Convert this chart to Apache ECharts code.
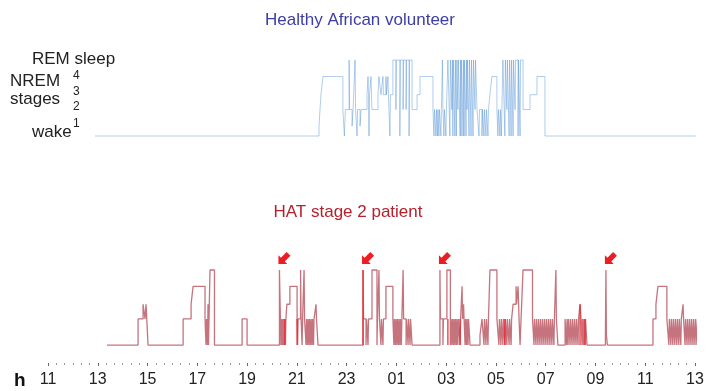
<!DOCTYPE html>
<html>
<head>
<meta charset="utf-8">
<script src="https://cdn.jsdelivr.net/npm/echarts@6/dist/echarts.min.js"></script>
<style>
  html, body { margin: 0; padding: 0; background: #fff; }
  #chart { width: 712px; height: 391px; }
</style>
</head>
<body>
<div id="chart"></div>
<script>
// Hypnograms over 26 hours, 11:00 on day one to 13:00 the next day.
// Times are clock hours; values above 24 belong to the next morning.
const AXIS_START = 11;
const AXIS_SPAN = 26;
const hourLabels = ['11', '13', '15', '17', '19', '21', '23', '01', '03', '05', '07', '09', '11', '13'];

// Vertical placement of each sleep stage on the hypnogram scale.
const stageLevel = { W: 0, '1': 0.6, '2': 1.6, '3': 2.5, '4': 3.6, R: 4.6 };
// Room left under the wake level of the lower panel for the time axis.
const AXIS_GAP = 1.1;

// Each entry: [clock hour, stage entered at that time].
const healthyHypnogram = [
  [12.89, 'W'],
  [21.89, '1'], [21.93, '2'], [21.97, '3'], [22.05, '4'],
  [22.85, '2'], [22.91, 'W'], [22.95, '2'],
  [23.10, 'R'], [23.12, '2'], [23.22, '1'], [23.26, '2'],
  [23.34, 'R'], [23.36, '2'], [23.42, 'W'], [23.44, '2'],
  [23.54, '1'], [23.58, '2'],
  [23.82, '3'], [23.86, '4'], [23.88, '3'], [23.90, 'W'], [23.92, '3'], [23.98, '4'], [24.00, '3'],
  [24.02, '2'],
  [24.26, '3'], [24.30, '4'], [24.38, '3'], [24.46, '4'], [24.48, '3'], [24.58, '4'], [24.60, '3'],
  [24.66, '4'], [24.68, '3'], [24.74, 'W'], [24.76, '3'],
  [24.86, 'R'], [24.98, '2'], [25.00, 'R'], [25.14, 'W'], [25.16, 'R'], [25.27, '2'], [25.29, 'R'],
  [25.39, '2'], [25.41, 'R'], [25.51, 'W'], [25.53, 'R'],
  [25.63, '2'], [25.83, '3'], [25.95, '4'],
  [26.47, '2'], [26.51, 'W'], [26.53, '2'], [26.59, 'W'], [26.61, '2'], [26.65, 'W'], [26.67, '2'],
  [26.71, 'W'], [26.73, '2'], [26.79, 'W'], [26.81, '2'], [26.85, 'R'], [26.87, '2'], [26.91, 'W'],
  [26.93, '2'], [26.99, 'W'], [27.01, '2'],
  [27.07, 'R'], [27.15, 'W'], [27.17, 'R'], [27.23, '2'], [27.25, 'R'], [27.27, 'W'], [27.29, 'R'],
  [27.35, 'W'], [27.37, 'R'], [27.41, 'W'], [27.43, 'R'], [27.47, '2'], [27.49, 'R'], [27.56, 'W'],
  [27.58, 'R'], [27.60, 'W'], [27.62, 'R'], [27.68, 'W'], [27.70, 'R'], [27.72, 'W'], [27.74, 'R'],
  [27.80, 'W'], [27.82, 'R'], [27.84, '2'], [27.86, 'R'], [27.92, 'W'], [27.94, 'R'], [28.00, 'W'],
  [28.02, 'R'], [28.08, 'W'], [28.10, 'R'], [28.16, '2'], [28.18, 'R'],
  [28.24, '2'], [28.32, 'W'], [28.34, '2'], [28.44, 'W'], [28.46, '2'], [28.52, 'W'], [28.54, '2'],
  [28.60, 'W'], [28.62, '2'], [28.68, 'W'], [28.70, '2'],
  [28.76, '3'], [28.84, '4'],
  [29.04, '2'], [29.08, 'W'], [29.10, '2'], [29.16, 'W'], [29.18, '2'], [29.22, 'W'], [29.24, '2'],
  [29.28, 'R'], [29.36, 'W'], [29.38, 'R'], [29.44, '2'], [29.46, 'R'], [29.53, 'W'], [29.55, 'R'],
  [29.61, 'W'], [29.63, 'R'], [29.69, 'W'], [29.71, 'R'], [29.77, '2'], [29.79, 'R'], [29.89, 'W'],
  [29.91, 'R'], [29.97, 'W'], [29.99, 'R'],
  [30.09, '2'], [30.37, '3'], [30.65, '4'],
  [30.97, 'W'],
  [37.20, 'W']
];

const patientHypnogram = [
  [13.37, 'W'],
  [14.62, '2'], [14.82, '3'], [14.90, '2'], [14.94, '3'], [15.02, 'W'],
  [16.43, '2'], [16.75, '3'], [16.83, '4'],
  [17.31, '2'], [17.35, 'W'], [17.37, '2'], [17.41, 'W'], [17.43, '3'], [17.45, 'W'], [17.47, '2'],
  [17.51, 'R'], [17.69, 'W'],
  [18.80, '2'], [19.00, 'W'],
  [20.30, 'R'], [20.34, '2'], [20.36, 'W'], [20.38, '2'], [20.40, 'W'], [20.42, '2'], [20.44, 'W'],
  [20.46, '2'], [20.48, 'W'], [20.52, '2'], [20.54, 'W'], [20.56, '2'],
  [20.60, '3'], [20.72, '4'], [21.01, '2'], [21.03, 'W'], [21.05, '2'],
  [21.15, 'R'], [21.17, '2'], [21.21, 'W'], [21.23, '2'], [21.29, 'R'], [21.31, '2'],
  [21.37, 'W'], [21.39, '2'], [21.43, 'W'], [21.45, '2'], [21.49, 'W'], [21.51, '2'], [21.55, 'W'],
  [21.57, '2'], [21.61, 'W'], [21.63, '2'], [21.67, 'W'], [21.69, '2'],
  [21.77, '3'], [21.79, '2'], [21.85, 'W'],
  [23.66, 'R'], [23.68, '2'], [23.78, 'W'], [23.80, '2'], [23.86, 'W'], [23.88, '2'],
  [24.02, 'R'], [24.22, 'W'], [24.24, '2'], [24.30, 'R'], [24.32, '2'], [24.38, 'W'], [24.40, '2'],
  [24.46, 'W'], [24.48, '2'],
  [24.58, '4'], [24.86, '2'],
  [24.90, 'W'], [24.92, '2'], [24.96, 'W'], [24.98, '2'], [25.02, 'W'], [25.04, '2'], [25.08, 'W'],
  [25.10, '2'], [25.14, 'W'], [25.16, '2'], [25.20, 'W'], [25.22, '2'],
  [25.27, 'R'], [25.29, '2'], [25.39, 'W'], [25.41, '2'], [25.47, 'W'], [25.49, '2'], [25.55, 'W'],
  [25.57, '2'],
  [25.63, 'W'],
  [26.75, 'R'], [26.77, '2'], [26.87, 'W'], [26.89, '2'],
  [27.03, 'R'], [27.17, 'W'], [27.19, '2'],
  [27.23, 'W'], [27.25, '2'], [27.29, 'W'], [27.31, '2'], [27.35, 'W'], [27.37, '2'], [27.41, 'W'],
  [27.43, '2'], [27.47, 'W'], [27.49, '2'], [27.56, 'W'], [27.58, '2'],
  [27.64, '4'], [27.66, '2'], [27.70, '3'], [27.72, '2'], [27.76, 'W'], [27.78, '2'], [27.82, 'W'],
  [27.84, '2'], [27.88, 'W'], [27.90, '2'],
  [27.96, 'W'],
  [28.36, '1'], [28.44, '2'], [28.52, 'W'], [28.54, '2'], [28.60, 'W'], [28.62, '2'], [28.68, 'W'],
  [28.70, '2'],
  [28.76, 'R'], [29.04, '2'],
  [29.12, 'W'], [29.14, '2'], [29.20, 'W'], [29.22, '2'], [29.28, 'W'], [29.30, '2'], [29.36, 'W'],
  [29.38, '2'], [29.44, 'W'], [29.46, '2'], [29.53, 'W'], [29.55, '2'], [29.61, 'W'], [29.63, '2'],
  [29.69, '3'], [29.81, '4'], [29.83, '3'], [29.89, '4'], [29.93, '2'], [29.97, 'W'], [30.01, '2'],
  [30.09, 'R'], [30.47, '2'],
  [30.53, 'W'], [30.55, '2'], [30.61, 'W'], [30.63, '2'], [30.69, 'W'], [30.71, '2'], [30.77, 'W'],
  [30.79, '2'], [30.85, 'W'], [30.87, '2'], [30.93, 'W'], [30.95, '2'], [31.01, 'W'], [31.03, '2'],
  [31.09, 'W'], [31.11, '2'], [31.17, 'W'], [31.19, '2'], [31.25, 'W'], [31.27, '2'], [31.33, 'W'],
  [31.35, '2'],
  [31.41, 'R'], [31.43, '2'], [31.49, 'W'],
  [31.78, '2'], [31.84, 'W'], [31.86, '2'], [31.90, 'W'], [31.92, '2'], [31.98, 'W'], [32.00, '2'],
  [32.06, 'W'], [32.08, '2'], [32.14, 'W'], [32.16, '2'], [32.22, 'W'], [32.24, '2'], [32.30, 'W'],
  [32.32, '2'],
  [32.38, '3'], [32.42, '2'], [32.46, 'W'], [32.48, '2'], [32.52, 'W'], [32.54, '2'], [32.58, 'W'],
  [32.60, '2'],
  [32.66, 'W'],
  [33.40, '1'], [33.42, 'R'], [33.44, '1'], [33.48, 'W'],
  [35.31, '2'], [35.43, '3'], [35.51, '4'], [35.87, '2'],
  [35.95, 'W'], [35.97, '2'], [36.03, 'W'], [36.05, '2'], [36.11, 'W'], [36.13, '2'], [36.19, 'W'],
  [36.21, '2'], [36.27, 'W'], [36.29, '2'], [36.35, 'W'], [36.37, '2'], [36.43, 'W'], [36.45, '2'],
  [36.52, '3'], [36.54, '2'],
  [36.60, 'W'], [36.62, '2'], [36.68, 'W'], [36.70, '2'], [36.76, 'W'], [36.78, '2'], [36.84, 'W'],
  [36.86, '2'], [36.92, 'W'], [36.94, '2'], [37.00, 'W'], [37.02, '2'], [37.08, 'W'], [37.10, '2'],
  [37.20, '3'], [37.22, '2'], [37.28, 'W'],
  [37.40, 'W']
];

// Brief awakenings highlighted in bright red: [clock hour, stage reached].
const patientHighlights = [
  [20.52, '2'], [21.01, '2'], [23.66, 'R'], [27.07, '2'], [27.56, '2'],
  [29.36, '2'], [32.38, '3'], [32.58, '2'], [37.20, '3']
];

// Sleep-onset REM episodes marked with arrows (clock hour).
const sorempTimes = [20.30, 23.66, 26.75, 33.42];

const FONT = '"Liberation Sans", Arial, sans-serif';

function toSeries(list) {
  return list.map(([t, s]) => [t - AXIS_START, stageLevel[s]]);
}

function toHighlightSegments(list) {
  const out = [];
  list.forEach(([t, s]) => {
    const x = t - AXIS_START;
    out.push([x, stageLevel.W], [x, stageLevel[s]], [x, '-']);
  });
  return out;
}

const chart = echarts.init(document.getElementById('chart'), null, { renderer: 'canvas' });

// Chunky arrow pointing down and to the left.
const ARROW = 'path://M0,20 L0,6 L4,10 L13,1 L19,7 L10,16 L14,20 Z';

const option = {
  animation: false,
  backgroundColor: '#ffffff',
  grid: [
    { left: 48, right: 17, top: 60, height: 76 },
    { left: 48, right: 17, top: 270, height: 93 }
  ],
  xAxis: [
    { gridIndex: 0, type: 'value', min: 0, max: AXIS_SPAN, show: false },
    {
      gridIndex: 1, type: 'value', min: 0, max: AXIS_SPAN, interval: 2,
      axisLine: { show: false, onZero: false },
      axisTick: { show: true, length: 3, lineStyle: { color: '#666', width: 1 } },
      minorTick: { show: true, splitNumber: 6, length: 2, lineStyle: { color: '#999', width: 1 } },
      splitLine: { show: false },
      minorSplitLine: { show: false },
      axisLabel: {
        formatter: v => hourLabels[Math.round(v / 2)],
        fontSize: 16, color: '#222', margin: 9, fontFamily: FONT
      }
    }
  ],
  yAxis: [
    { gridIndex: 0, type: 'value', min: 0, max: stageLevel.R, show: false },
    { gridIndex: 1, type: 'value', min: -AXIS_GAP, max: stageLevel.R, show: false }
  ],
  series: [
    {
      name: 'Healthy African volunteer',
      type: 'line', xAxisIndex: 0, yAxisIndex: 0, step: 'end',
      data: toSeries(healthyHypnogram),
      symbol: 'none', clip: false, silent: true,
      lineStyle: { color: 'rgba(80,145,212,0.45)', width: 1 }
    },
    {
      name: 'HAT stage 2 patient',
      type: 'line', xAxisIndex: 1, yAxisIndex: 1, step: 'end',
      data: toSeries(patientHypnogram),
      symbol: 'none', clip: false, silent: true,
      lineStyle: { color: 'rgba(170,50,65,0.68)', width: 1.3 },
      markPoint: {
        symbol: ARROW,
        symbolSize: 12,
        symbolOffset: [5, -12],
        symbolKeepAspect: true,
        itemStyle: { color: '#ee1d23' },
        label: { show: false },
        data: sorempTimes.map(t => ({ coord: [t - AXIS_START, stageLevel.R] }))
      }
    },
    {
      name: 'highlights',
      type: 'line', xAxisIndex: 1, yAxisIndex: 1,
      data: toHighlightSegments(patientHighlights),
      symbol: 'none', clip: false, silent: true, connectNulls: false,
      lineStyle: { color: '#f0222a', width: 1.2 }
    }
  ],
  graphic: [
    { type: 'text', style: { x: 360, y: 20, text: 'Healthy African volunteer', fill: '#3d3da6', font: '17px ' + FONT, textAlign: 'center', textVerticalAlign: 'middle' } },
    { type: 'text', style: { x: 348, y: 212, text: 'HAT stage 2 patient', fill: '#b61f2c', font: '17px ' + FONT, textAlign: 'center', textVerticalAlign: 'middle' } },
    { type: 'text', style: { x: 32, y: 59, text: 'REM sleep', fill: '#222', font: '17px ' + FONT, textVerticalAlign: 'middle' } },
    { type: 'text', style: { x: 10, y: 81, text: 'NREM', fill: '#222', font: '17px ' + FONT, textVerticalAlign: 'middle' } },
    { type: 'text', style: { x: 10, y: 99, text: 'stages', fill: '#222', font: '17px ' + FONT, textVerticalAlign: 'middle' } },
    { type: 'text', style: { x: 32, y: 132, text: 'wake', fill: '#222', font: '17px ' + FONT, textVerticalAlign: 'middle' } },
    { type: 'text', style: { x: 73, y: 76, text: '4', fill: '#222', font: '12px ' + FONT, textVerticalAlign: 'middle' } },
    { type: 'text', style: { x: 73, y: 92, text: '3', fill: '#222', font: '12px ' + FONT, textVerticalAlign: 'middle' } },
    { type: 'text', style: { x: 73, y: 107, text: '2', fill: '#222', font: '12px ' + FONT, textVerticalAlign: 'middle' } },
    { type: 'text', style: { x: 73, y: 124, text: '1', fill: '#222', font: '12px ' + FONT, textVerticalAlign: 'middle' } },
    { type: 'text', style: { x: 14, y: 381, text: 'h', fill: '#111', font: 'bold 19px ' + FONT, textVerticalAlign: 'middle' } }
  ]
};

chart.setOption(option);
</script>
</body>
</html>
